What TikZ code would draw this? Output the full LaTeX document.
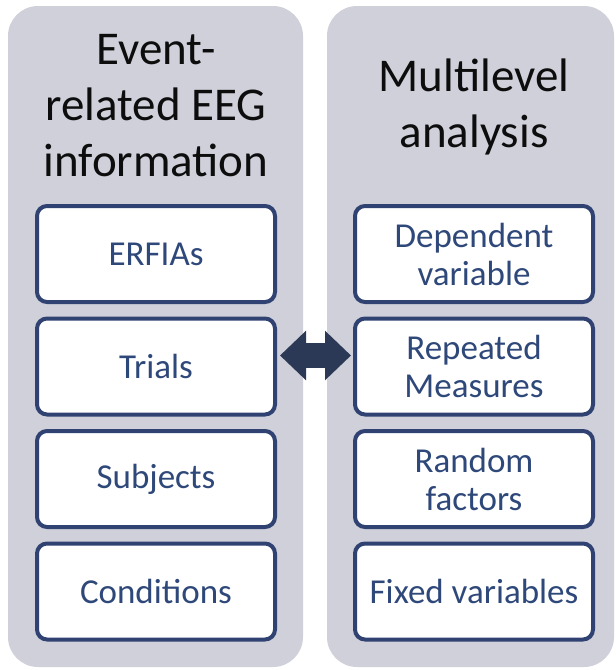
\documentclass[tikz,border=0pt]{standalone}
\usepackage{fontspec}
\setmainfont{Carlito}
\usetikzlibrary{positioning}
\usetikzlibrary{arrows.meta}

\begin{document}
\begin{tikzpicture}[
        x=1pt, y=-1pt,
        panel/.style={fill=panelgrey, rounded corners=30pt},
        title/.style={align=center, text=black!95, font=\fontsize{47}{56}\selectfont},
        item/.style={draw=itemblue, line width=4pt, fill=white, rounded corners=10pt,
            minimum width=238pt, minimum height=96pt, inner sep=0pt, align=center,
            text=itemtext, font=\fontsize{35}{38}\selectfont},
        dblarrow/.style={draw=arrowblue, line width=25pt,
            {Triangle[width=48pt, length=26pt]}-{Triangle[width=48pt, length=26pt]}},
        node distance=12.5pt,
    ]
        \definecolor{panelgrey}{RGB}{207,208,218}
        \definecolor{itemblue}{RGB}{47,66,114}
        \definecolor{itemtext}{RGB}{47,72,122}
        \definecolor{arrowblue}{RGB}{43,56,86}

        \useasboundingbox (0,0) rectangle (616,670);

        % Panels
        \fill[panel] (8,6) rectangle (303,667);
        \fill[panel] (327,6) rectangle (614,667);

        % Left side
        \node[title] (eeg) at (156,106) {Event-\\related EEG\\information};
        \node[item] (erfias) at (156,254) {ERFIAs};
        \node[item, below=of erfias] (trials) {Trials};
        \node[item, below=of trials] (subjects) {Subjects};
        \node[item, below=of subjects] (conditions) {Conditions};

        % Right side
        \node[title] (mla) at (474,107) {Multilevel\\analysis};
        \node[item] (dependent) at (474,254) {Dependent\\variable};
        \node[item, below=of dependent] (repeated) {Repeated\\Measures};
        \node[item, below=of repeated] (random) {Random\\factors};
        \node[item, below=of random] (fixed) {Fixed variables};

        % Link
        \draw[dblarrow, shorten <=3pt, shorten >=2pt]
            ([yshift=11pt]trials.east) -- ([yshift=11pt]repeated.west);
    \end{tikzpicture}
\end{document}
